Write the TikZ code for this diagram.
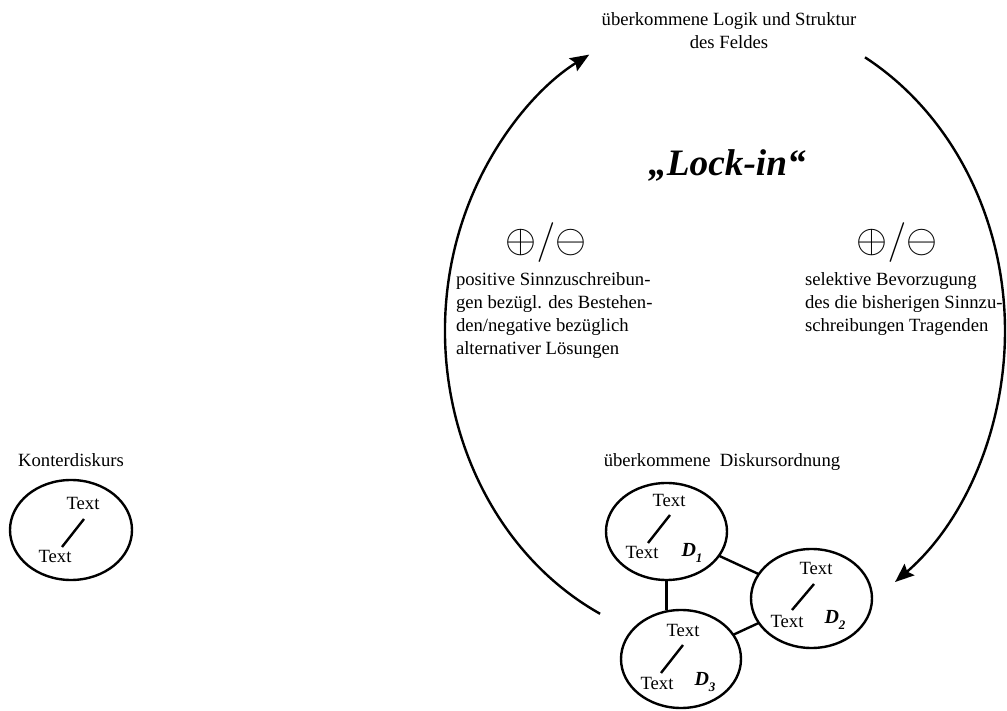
\documentclass[tikz,border=0pt]{standalone}
\usepackage{graphicx}
\usepackage{fontspec}
\setmainfont{Liberation Serif}
\usetikzlibrary{shapes.geometric,arrows.meta}
\tikzset{
  every node/.style={inner sep=0pt, outer sep=0pt},
  txt/.style={font=\fontsize{18.67}{23}\selectfont},
  disk/.style={draw, ellipse, line width=2.4pt, minimum width=121pt, minimum height=98pt},
  link/.style={line width=2.4pt},
  slashline/.style={line width=2.4pt},
  cyc/.style={line width=2.4pt, -{Stealth[length=19pt,width=15pt,inset=3pt]}},
  pm/.style={font=\fontsize{24.88}{26}\selectfont},
  dlab/.style={font=\fontsize{20}{20}\selectfont\bfseries\itshape},
}
\newcommand{\dsub}[1]{D\raisebox{-6pt}{\fontsize{13}{13}\selectfont #1}}
\newcommand{\plusminus}{\scalebox{1.6}{$\oplus/\ominus$}}
\begin{document}
\begin{tikzpicture}[x=1pt,y=1pt]
\useasboundingbox (0,0) rectangle (1007,710);

% top text and Lock-in
\node[txt, align=center, anchor=north] (feld) at (729,697) {überkommene Logik und Struktur\\des Feldes};
\node[font=\fontsize{37.3}{40}\selectfont\bfseries\itshape] (lock) at (727,545) {„Lock-in“};

% plus/minus and explanations
\node[pm] (pmL) at (546,467) {\plusminus};
\node[pm] (pmR) at (897,467) {\plusminus};
\node[txt, align=left, anchor=north west] (sinn) at (456,437)
  {positive Sinnzuschreibun-\\gen bezügl. des Bestehen-\\den/negative bezüglich\\alternativer Lösungen};
\node[txt, align=left, anchor=north west] (sel) at (805,437)
  {selektive Bevorzugung\\des die bisherigen Sinnzu-\\schreibungen Tragenden};

% cycle arcs
\coordinate (cc) at (725,379);
\coordinate (L0) at ([shift={(243.5:280 and 316)}]cc);
\coordinate (R0) at ([shift={(60:280 and 316)}]cc);
\draw[cyc] (L0) arc[start angle=243.5, end angle=119, x radius=280, y radius=316];
\draw[cyc] (R0) arc[start angle=60, end angle=-52.6, x radius=280, y radius=316];

% Konterdiskurs
\node[txt] (klab) at (71,250) {Konterdiskurs};
\node[disk, minimum width=122pt, minimum height=100pt] (k) at (71,180) {};
\node[txt] (ka) at (83,207) {Text};
\node[txt] (kb) at (55,154) {Text};
\draw[slashline] ([shift={(13,11)}]k.center) -- ([shift={(-9,-17)}]k.center);

% Diskursordnung
\node[txt] (dlab) at (722,248) {überkommene\ \ Diskursordnung};
\node[disk, minimum height=97pt] (d1) at (666.5,178.5) {};
\node[disk, minimum height=99pt] (d2) at (811.5,111.5) {};
\node[disk, minimum width=120pt] (d3) at (681,51) {};

\node[txt] (d1a) at (669,210) {Text};
\node[txt] (d1b) at (642,158) {Text};
\node[dlab] (d1l) at (692,157) {\dsub{1}};
\draw[slashline] ([shift={(3.5,16.5)}]d1.center) -- ([shift={(-18.5,-11.5)}]d1.center);

\node[txt] (d2a) at (816,142) {Text};
\node[txt] (d2b) at (787,89) {Text};
\node[dlab] (d2l) at (835,90) {\dsub{2}};
\draw[slashline] ([shift={(2.5,14.5)}]d2.center) -- ([shift={(-19.5,-11.5)}]d2.center);

\node[txt] (d3a) at (683,80) {Text};
\node[txt] (d3b) at (657,27) {Text};
\node[dlab] (d3l) at (705,28) {\dsub{3}};
\draw[slashline] ([shift={(2,14)}]d3.center) -- ([shift={(-20,-14)}]d3.center);

\draw[link] (d1.south) -- (d1.south |- d3.north);
\draw[link] (d1) -- (d2);
\draw[link] (d2) -- (d3);
\end{tikzpicture}
\end{document}
